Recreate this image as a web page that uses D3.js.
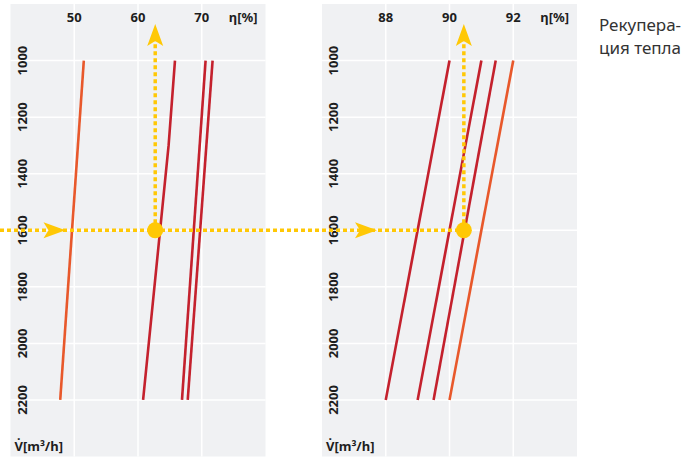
<!DOCTYPE html>
<html><head><meta charset="utf-8">
<script src="https://cdn.jsdelivr.net/npm/d3@7"></script>
<style>
html,body{margin:0;padding:0;background:#fff;}
svg{display:block;font-family:"Noto Sans","Open Sans",sans-serif;}
</style></head>
<body>
<svg id="c" width="691" height="460"></svg>
<script>
// ---- data ----
const flowTicks = [1000, 1200, 1400, 1600, 1800, 2000, 2200];
const leftTicks = [50, 60, 70];
const rightTicks = [88, 90, 92];
const leftSeries = [
  {color: "orange", pts: [[1000, 51.5], [2200, 47.8]]},
  {color: "red", pts: [[1000, 65.8], [1300, 64.8], [2200, 60.8]]},
  {color: "red", pts: [[1000, 70.6], [2200, 66.9]]},
  {color: "red", pts: [[1000, 71.7], [2200, 67.8]]}
];
const rightSeries = [
  {color: "red", pts: [[1000, 90.0], [2200, 88.0]]},
  {color: "red", pts: [[1000, 91.0], [2200, 89.0]]},
  {color: "red", pts: [[1000, 91.45], [2200, 89.5]]},
  {color: "orange", pts: [[1000, 92.0], [2200, 90.0]]}
];
const opFlow = 1600;
const opLeft = 62.7;
const opRight = 90.45;
const xLabel = "η[%]";
const yLabel = "V̇[m³/h]";
const legendLines = ["Рекупера-", "ция тепла"];

// ---- drawing ----
const colors = {red: "#C4212D", orange: "#E8582B"};
const yellow = "#FFC805";
const svg = d3.select("#c");
const y = d3.scaleLinear().domain([800, 2400]).range([4, 456.5]);
const xL = d3.scaleLinear().domain([40, 80]).range([10.5, 265.5]);
const xR = d3.scaleLinear().domain([86, 94]).range([322, 577]);

function panel(x, ticks, series) {
  const g = svg.append("g");
  const [x0, x1] = x.range();
  g.append("rect").attr("x", x0).attr("y", y(800)).attr("width", x1 - x0)
    .attr("height", y(2400) - y(800)).attr("fill", "#F0F1F3");
  g.selectAll(".hg").data(flowTicks).join("line")
    .attr("x1", x0).attr("x2", x1).attr("y1", d => y(d)).attr("y2", d => y(d))
    .attr("stroke", "#fff").attr("stroke-width", 1.5);
  g.selectAll(".vg").data(ticks).join("line")
    .attr("x1", d => x(d)).attr("x2", d => x(d)).attr("y1", y(800)).attr("y2", y(2400))
    .attr("stroke", "#fff").attr("stroke-width", 1.5);
  g.selectAll(".xt").data(ticks).join("text")
    .attr("x", d => x(d)).attr("y", 21.5).attr("text-anchor", "middle")
    .attr("font-size", 13).attr("font-weight", "bold").attr("fill", "#1e1e1e")
    .text(d => d);
  g.append("text").attr("x", x1 - 8).attr("y", 21.5).attr("text-anchor", "end")
    .attr("font-size", 13).attr("font-weight", "bold").attr("fill", "#1e1e1e").text(xLabel);
  g.selectAll(".yt").data(flowTicks).join("text")
    .attr("transform", d => `translate(${x0 + 16},${y(d)}) rotate(-90)`)
    .attr("text-anchor", "middle")
    .attr("font-size", 13).attr("font-weight", "bold").attr("fill", "#1e1e1e")
    .text(d => d);
  g.append("text").attr("x", x0 + 4).attr("y", 450.5)
    .attr("font-size", 13).attr("font-weight", "bold").attr("fill", "#1e1e1e").text(yLabel);
  const line = d3.line().x(d => x(d[1])).y(d => y(d[0]));
  g.selectAll(".s").data(series).join("path")
    .attr("d", d => line(d.pts)).attr("fill", "none")
    .attr("stroke", d => colors[d.color]).attr("stroke-width", 2.6);
}
panel(xL, leftTicks, leftSeries);
panel(xR, rightTicks, rightSeries);

// operating point guides
const dash = "4,3";
const ov = svg.append("g");
ov.append("line").attr("x1", 0).attr("x2", xR(opRight)).attr("y1", y(opFlow)).attr("y2", y(opFlow))
  .attr("stroke", yellow).attr("stroke-width", 3.5).attr("stroke-dasharray", dash);
[[xL, opLeft], [xR, opRight]].forEach(([x, v]) => {
  ov.append("line").attr("x1", x(v)).attr("x2", x(v)).attr("y1", y(opFlow)).attr("y2", 40)
    .attr("stroke", yellow).attr("stroke-width", 3.5).attr("stroke-dasharray", dash);
  ov.append("circle").attr("cx", x(v)).attr("cy", y(opFlow)).attr("r", 8).attr("fill", yellow);
  ov.append("path").attr("d", "M0,0 L-22,-8 L-17,0 L-22,8 Z")
    .attr("transform", `translate(${x(v)},24) rotate(-90)`).attr("fill", yellow);
  const x0 = x.range()[0];
  ov.append("path").attr("d", "M0,0 L-22,-8 L-17,0 L-22,8 Z")
    .attr("transform", `translate(${x0 + 55},${y(opFlow)})`).attr("fill", yellow);
});

// legend text
const lg = svg.append("text").attr("x", 599).attr("y", 31)
  .attr("font-size", 17).attr("fill", "#333");
legendLines.forEach((t, i) => lg.append("tspan").attr("x", 599).attr("dy", i ? 23 : 0).text(t));
</script>
</body></html>
